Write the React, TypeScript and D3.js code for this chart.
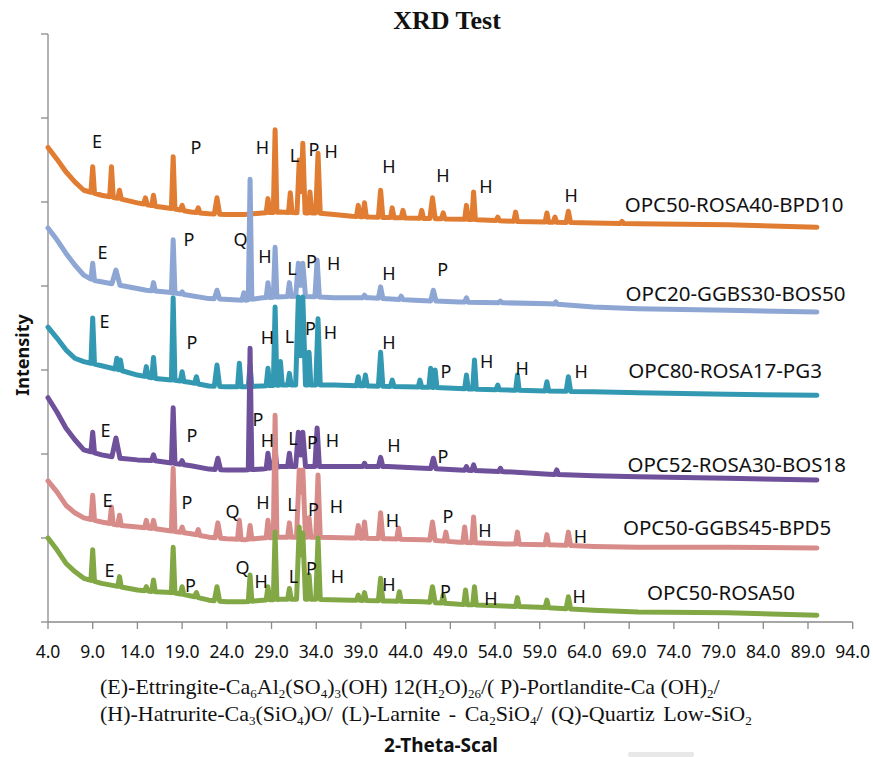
import React from 'react';
import * as d3 from 'd3';

const W = 873;
const H = 757;

// ---------- data (2-theta, intensity in axis units) ----------
const seriesNames = [
  'OPC50-ROSA40-BPD10',
  'OPC20-GGBS30-BOS50',
  'OPC80-ROSA17-PG3',
  'OPC52-ROSA30-BOS18',
  'OPC50-GGBS45-BPD5',
  'OPC50-ROSA50',
];
const seriesColors = ['#E07D32', '#8EA6D4', '#3399B3', '#6F509B', '#D88C8A', '#82A846'];

const xTickValues = [4, 9, 14, 19, 24, 29, 34, 39, 44, 49, 54, 59, 64, 69, 74, 79, 84, 89, 94];
const yTickValues = [0, 1, 2, 3, 4, 5, 6, 7];

// background points [2theta, intensity]
const bgOrange: [number, number][] = [
  [4, 5.65], [5, 5.51], [6, 5.36], [7, 5.24], [8, 5.14], [10, 5.08], [12, 5.04], [14, 4.99], [16, 4.95],
  [18, 4.92], [20, 4.88], [22, 4.86], [24, 4.85], [26, 4.85], [28, 4.87], [30, 4.88], [32, 4.87], [34, 4.87],
  [36, 4.85], [38, 4.83], [40, 4.82], [44, 4.81], [48, 4.8], [52, 4.79], [56, 4.77], [60, 4.76], [65, 4.75],
  [70, 4.74], [80, 4.73], [90, 4.7],
];
const bgBlue: [number, number][] = [
  [4, 4.69], [5, 4.55], [6, 4.39], [7, 4.25], [8, 4.13], [9, 4.07], [12, 4.01], [15, 3.95], [18, 3.92],
  [22, 3.85], [26, 3.83], [28, 3.86], [32, 3.88], [36, 3.86], [40, 3.86], [45, 3.83], [50, 3.81], [55, 3.8],
  [60, 3.79], [65, 3.75], [70, 3.73], [80, 3.71], [90, 3.69],
];
const bgTeal: [number, number][] = [
  [4, 3.51], [5, 3.38], [6, 3.24], [7, 3.14], [8, 3.1], [10, 3.05], [12, 3.0], [14, 2.94], [16, 2.9],
  [18, 2.88], [20, 2.85], [22, 2.81], [24, 2.8], [26, 2.8], [28, 2.81], [30, 2.82], [34, 2.82], [36, 2.82],
  [40, 2.81], [44, 2.8], [48, 2.79], [52, 2.77], [56, 2.76], [60, 2.75], [65, 2.74], [70, 2.73], [80, 2.71],
  [90, 2.7],
];
const bgPurple: [number, number][] = [
  [4, 2.67], [5, 2.5], [6, 2.31], [7, 2.17], [8, 2.05], [10, 1.99], [12, 1.95], [14, 1.93], [16, 1.92],
  [18, 1.89], [20, 1.86], [22, 1.82], [24, 1.81], [26, 1.81], [28, 1.82], [30, 1.85], [34, 1.85], [38, 1.85],
  [42, 1.85], [46, 1.83], [50, 1.81], [55, 1.79], [60, 1.76], [65, 1.74], [70, 1.73], [80, 1.71], [90, 1.69],
];
const bgPink: [number, number][] = [
  [4, 1.68], [5, 1.55], [6, 1.39], [7, 1.3], [8, 1.24], [10, 1.19], [12, 1.15], [14, 1.13], [16, 1.11],
  [18, 1.08], [20, 1.05], [22, 1.01], [24, 0.99], [26, 0.98], [28, 1.0], [30, 1.01], [34, 1.01], [38, 1.0],
  [42, 0.99], [46, 0.98], [50, 0.95], [55, 0.93], [60, 0.92], [65, 0.9], [70, 0.89], [80, 0.89], [90, 0.88],
];
const bgGreen: [number, number][] = [
  [4, 1.0], [5, 0.86], [6, 0.7], [7, 0.6], [8, 0.52], [10, 0.46], [12, 0.42], [14, 0.38], [16, 0.36],
  [18, 0.35], [20, 0.31], [22, 0.26], [24, 0.24], [26, 0.24], [28, 0.26], [30, 0.27], [34, 0.27], [38, 0.26],
  [42, 0.25], [46, 0.24], [50, 0.21], [55, 0.19], [60, 0.17], [65, 0.14], [70, 0.12], [80, 0.11], [90, 0.08],
];

// peaks [2theta, top intensity, half-width]
const pkOrange: [number, number, number?][] = [
  [9.0, 5.42], [11.1, 5.42], [12.0, 5.14], [14.9, 5.05], [15.8, 5.08], [18.0, 5.54], [19.0, 4.96],
  [20.8, 4.93], [22.9, 5.05, 0.3], [28.6, 5.04], [29.4, 5.86], [31.1, 5.11], [32.1, 5.5, 0.25], [32.5, 5.7, 0.25],
  [33.3, 5.12], [34.2, 5.58, 0.25], [38.7, 4.96], [39.4, 4.99], [41.2, 5.14, 0.25], [42.5, 4.93], [43.7, 4.9],
  [45.8, 4.9], [47.0, 5.05, 0.3], [48.2, 4.87], [50.8, 4.96], [51.6, 5.12], [54.3, 4.82], [56.3, 4.88],
  [59.8, 4.87], [60.7, 4.82], [62.2, 4.89, 0.25], [68.2, 4.77],
];
const pkBlue: [number, number, number?][] = [
  [9.0, 4.27], [11.6, 4.19, 0.45], [15.8, 4.04], [18.0, 4.55], [19.0, 3.93], [22.9, 3.95, 0.3], [25.9, 3.92],
  [26.6, 5.27], [28.6, 4.04], [29.4, 4.46], [31.0, 4.04], [32.0, 4.27, 0.3], [32.5, 4.27, 0.3], [34.1, 4.31, 0.25],
  [39.4, 3.89], [41.2, 3.99, 0.25], [43.5, 3.88], [47.1, 3.95, 0.3], [50.8, 3.86], [54.6, 3.82], [60.8, 3.81],
];
const pkTeal: [number, number, number?][] = [
  [9.0, 3.62], [11.7, 3.14], [12.1, 3.12], [15.0, 3.04], [15.8, 3.15], [18.0, 3.86], [19.0, 2.98],
  [20.6, 2.92], [22.9, 3.06, 0.3], [25.4, 3.08], [26.6, 3.06], [28.6, 3.02], [29.4, 3.75], [30.0, 3.1],
  [31.0, 2.96], [32.0, 3.87, 0.3], [32.5, 3.87, 0.3], [33.2, 3.21], [34.2, 3.61, 0.25], [38.7, 2.92],
  [39.5, 2.94], [41.2, 3.21, 0.25], [42.5, 2.88], [45.6, 2.88], [46.8, 3.02], [47.3, 3.0], [50.8, 2.94],
  [51.7, 3.12], [54.3, 2.82], [56.5, 2.94], [59.8, 2.86], [62.2, 2.92, 0.25],
];
const pkPurple: [number, number, number?][] = [
  [9.0, 2.26], [11.6, 2.19, 0.45], [15.8, 1.99], [18.0, 2.55], [19.0, 1.92], [23.0, 1.95, 0.3], [26.6, 3.26],
  [28.6, 2.01], [29.4, 2.05], [31.0, 2.01], [32.0, 2.26, 0.3], [32.5, 2.26, 0.3], [34.1, 2.31, 0.25],
  [39.4, 1.89], [41.2, 1.96, 0.25], [47.1, 1.95, 0.3], [50.8, 1.85], [51.6, 1.87], [54.6, 1.83], [60.9, 1.81],
];
const pkPink: [number, number, number?][] = [
  [9.0, 1.51], [11.1, 1.37], [12.0, 1.27], [15.0, 1.21], [15.8, 1.21], [18.0, 1.83], [19.0, 1.13],
  [20.8, 1.1], [23.0, 1.18, 0.3], [25.4, 1.21], [26.6, 1.15], [28.6, 1.21], [29.4, 2.46], [31.0, 1.18],
  [32.1, 1.81, 0.3], [32.5, 1.81, 0.3], [33.2, 1.24], [34.2, 1.75, 0.25], [38.7, 1.15], [39.4, 1.19],
  [41.2, 1.3, 0.25], [43.2, 1.12], [47.0, 1.19, 0.3], [48.5, 1.07], [50.6, 1.13], [51.6, 1.25], [56.5, 1.07],
  [59.8, 1.04], [62.2, 1.07, 0.25],
];
const pkGreen: [number, number, number?][] = [
  [9.0, 0.86], [12.0, 0.54], [15.0, 0.42], [15.8, 0.5], [18.0, 0.89], [19.0, 0.42], [20.6, 0.35],
  [22.9, 0.42, 0.3], [26.6, 0.56], [28.6, 0.42], [29.4, 1.07], [31.0, 0.4], [32.1, 1.13, 0.3], [32.5, 1.06, 0.3],
  [33.2, 0.56], [34.2, 1.0, 0.25], [38.7, 0.32], [39.4, 0.35], [41.2, 0.52, 0.25], [43.3, 0.36],
  [47.0, 0.42, 0.3], [48.2, 0.32], [50.7, 0.38], [51.7, 0.42], [56.5, 0.29], [59.8, 0.26], [62.2, 0.3, 0.25],
];

// phase annotations [letter, 2theta, intensity]
const annOrange: [string, number, number][] = [
  ['E', 9.48, 5.64], ['P', 20.55, 5.57], ['H', 27.99, 5.57], ['L', 31.57, 5.48], ['P', 33.75, 5.55],
  ['H', 35.66, 5.52], ['H', 42.14, 5.35], ['H', 48.18, 5.24], ['H', 52.99, 5.11], ['H', 62.5, 5.0],
];
const annBlue: [string, number, number][] = [
  ['E', 10.1, 4.32], ['P', 19.77, 4.48], ['Q', 25.53, 4.48], ['H', 28.27, 4.27], ['L', 31.29, 4.13],
  ['P', 33.47, 4.21], ['H', 35.94, 4.19], ['H', 42.14, 4.07], ['P', 48.13, 4.12],
];
const annTeal: [string, number, number][] = [
  ['E', 10.32, 3.5], ['P', 20.11, 3.25], ['H', 28.55, 3.31], ['L', 31.01, 3.32], ['P', 33.36, 3.42],
  ['H', 35.6, 3.37], ['H', 42.14, 3.25], ['P', 48.52, 2.9], ['H', 53.05, 3.02], ['H', 57.02, 2.94],
  ['H', 63.62, 2.9],
];
const annPurple: [string, number, number][] = [
  ['E', 10.43, 2.2], ['P', 20.11, 2.14], ['P', 27.49, 2.33], ['H', 28.55, 2.08], ['L', 31.4, 2.11],
  ['P', 33.59, 2.06], ['H', 35.82, 2.08], ['H', 42.7, 2.02], ['P', 48.18, 1.89],
];
const annPink: [string, number, number][] = [
  ['E', 10.66, 1.37], ['P', 19.55, 1.35], ['Q', 24.64, 1.24], ['H', 28.05, 1.35], ['L', 31.29, 1.32],
  ['P', 33.7, 1.26], ['H', 36.27, 1.3], ['H', 42.53, 1.13], ['P', 48.74, 1.18], ['H', 52.88, 1.01],
  ['H', 63.56, 0.94],
];
const annGreen: [string, number, number][] = [
  ['E', 10.88, 0.54], ['P', 19.94, 0.36], ['Q', 25.76, 0.57], ['H', 27.83, 0.4], ['L', 31.46, 0.46],
  ['P', 33.47, 0.56], ['H', 36.38, 0.46], ['H', 42.14, 0.37], ['P', 48.46, 0.29], ['H', 53.55, 0.2],
  ['H', 63.4, 0.23],
];

const backgrounds = [bgOrange, bgBlue, bgTeal, bgPurple, bgPink, bgGreen];
const peakLists = [pkOrange, pkBlue, pkTeal, pkPurple, pkPink, pkGreen];
const annotations = [annOrange, annBlue, annTeal, annPurple, annPink, annGreen];

// series name label anchor [2theta, intensity]
const nameAnchors: [number, number][] = [
  [68.5, 4.88], [68.6, 3.82], [68.9, 2.9], [68.8, 1.79], [68.3, 1.04], [71.0, 0.26],
];

const captionLine1: [string, boolean][] = [
  ['(E)-Ettringite-Ca', false], ['6', true], ['Al', false], ['2', true], ['(SO', false], ['4', true],
  [')', false], ['3', true], ['(OH) 12(H', false], ['2', true], ['O)', false], ['26', true],
  ['/( P)-Portlandite-Ca (OH)', false], ['2', true], ['/', false],
];
const captionLine2: [string, boolean][] = [
  ['(H)-Hatrurite-Ca', false], ['3', true], ['(SiO', false], ['4', true], [')O/ (L)-Larnite - Ca', false],
  ['2', true], ['SiO', false], ['4', true], ['/ (Q)-Quartiz Low-SiO', false], ['2', true],
];

// ---------- layout ----------
const X0 = 48;
const X1 = 852.7;
const Y0 = 622;
const Y1 = 34;

const x = d3.scaleLinear().domain([4, 94]).range([X0, X1]);
const y = d3.scaleLinear().domain([0, 7]).range([Y0, Y1]);

const DEFAULT_W = 0.2;

function buildCurve(bg: [number, number][], peaks: [number, number, number?][]): [number, number][] {
  const bgScale = d3.scaleLinear().domain(bg.map((d) => d[0])).range(bg.map((d) => d[1]));
  const xs = new Set<number>(bg.map((d) => d[0]));
  peaks.forEach(([p, , w = DEFAULT_W]) => {
    xs.add(+(p - w).toFixed(3));
    xs.add(p);
    xs.add(+(p + w).toFixed(3));
  });
  const sorted = Array.from(xs).sort((a, b) => a - b);
  return sorted.map((t) => {
    let v = bgScale(t);
    peaks.forEach(([p, top, w = DEFAULT_W]) => {
      const k = 1 - Math.abs(t - p) / w;
      if (k > 0) v += (top - bgScale(p)) * k;
    });
    return [t, v] as [number, number];
  });
}

const line = d3
  .line<[number, number]>()
  .x((d) => x(d[0]))
  .y((d) => y(d[1]));

const SANS = "'Noto Sans', 'Open Sans', sans-serif";
const SERIF = "'Liberation Serif', 'Times New Roman', serif";

function Caption({ parts, yPos, ws }: { parts: [string, boolean][]; yPos: number; ws: number }) {
  return (
    <text x={100} y={yPos} fontFamily={SERIF} fontSize={22} fill="#111" style={{ wordSpacing: `${ws}px` }}>
      {parts.map(([t, sub], i) =>
        sub ? (
          <tspan key={i} fontSize={13} dy={4}>
            {t}
          </tspan>
        ) : (
          <tspan key={i} fontSize={22} dy={i > 0 && parts[i - 1][1] ? -4 : 0}>
            {t}
          </tspan>
        )
      )}
    </text>
  );
}

export default function App() {
  const curves = backgrounds.map((bg, i) => buildCurve(bg, peakLists[i]));
  return (
    <svg
      width={W}
      height={H}
      viewBox={`0 0 ${W} ${H}`}
      style={{ position: 'absolute', left: 0, top: 0, background: '#fff' }}
    >
      <rect x={0} y={0} width={W} height={H} fill="#fff" />
      {/* title */}
      <text x={447} y={29} textAnchor="middle" fontFamily={SERIF} fontWeight="bold" fontSize={26} fill="#111">
        XRD Test
      </text>

      {/* y axis */}
      <line x1={X0} x2={X0} y1={y(7)} y2={Y0} stroke="#8a8a8a" strokeWidth={1.3} />
      {yTickValues.map((t) => (
        <line key={t} x1={X0 - 7} x2={X0} y1={y(t)} y2={y(t)} stroke="#8a8a8a" strokeWidth={1.3} />
      ))}
      {/* x axis */}
      <line x1={X0} x2={X1} y1={Y0} y2={Y0} stroke="#8a8a8a" strokeWidth={1.3} />
      {xTickValues.map((t) => (
        <g key={t}>
          <line x1={x(t)} x2={x(t)} y1={Y0} y2={Y0 + 7} stroke="#8a8a8a" strokeWidth={1.3} />
          <text x={x(t)} y={658} textAnchor="middle" fontFamily={SANS} fontSize={17.5} fill="#111">
            {d3.format('.1f')(t)}
          </text>
        </g>
      ))}

      {/* curves */}
      {curves.map((c, i) => (
        <path
          key={i}
          d={line(c) || ''}
          fill="none"
          stroke={seriesColors[i]}
          strokeWidth={5}
          strokeLinejoin="round"
          strokeLinecap="round"
        />
      ))}

      {/* phase letters */}
      {annotations.map((arr, i) =>
        arr.map(([l, t, v], j) => (
          <text
            key={`${i}-${j}`}
            x={x(t)}
            y={y(v)}
            textAnchor="middle"
            fontFamily={SANS}
            fontSize={18}
            fill="#111"
          >
            {l}
          </text>
        ))
      )}

      {/* series names */}
      {seriesNames.map((n, i) => (
        <text
          key={n}
          x={x(nameAnchors[i][0])}
          y={y(nameAnchors[i][1])}
          fontFamily={SANS}
          fontSize={20.5}
          fill="#111"
        >
          {n}
        </text>
      ))}

      {/* y label */}
      <text
        transform="translate(29,355) rotate(-90)"
        textAnchor="middle"
        fontFamily={SANS}
        fontWeight="bold"
        fontSize={18}
        fill="#111"
      >
        Intensity
      </text>

      {/* caption */}
      <Caption parts={captionLine1} yPos={694} ws={0} />
      <Caption parts={captionLine2} yPos={721} ws={3} />

      <text x={441} y={752} textAnchor="middle" fontFamily={SANS} fontWeight="bold" fontSize={19} fill="#111">
        2-Theta-Scal
      </text>
      <rect x={628} y={752} width={66} height={5} rx={2} fill="#e8e8e8" />
    </svg>
  );
}
